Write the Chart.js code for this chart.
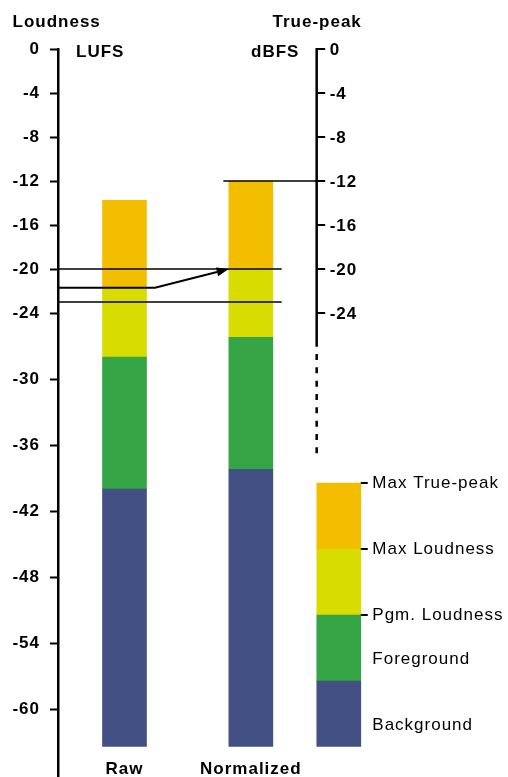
<!DOCTYPE html>
<html><head><meta charset="utf-8">
<script src="https://cdn.jsdelivr.net/npm/chart.js@4/dist/chart.umd.min.js"></script>
<style>html,body{margin:0;padding:0;background:#fff;overflow:hidden}canvas{display:block}</style>
</head><body><canvas id="c" width="508" height="777"></canvas>
<script>
// ---------- data (dB) ----------
const categories = ['Raw', 'Normalized'];
const barBottom     = [-63.4, -63.4];
const foregroundLow = [-40, -38.2];
const pgmLoudness   = [-28, -26.2];
const maxLoudness   = [-21.7, -20];
const maxTruePeak   = [-13.75, -12];
const leftTicks  = [0, -4, -8, -12, -16, -20, -24, -30, -36, -42, -48, -54, -60];
const rightTicks = [0, -4, -8, -12, -16, -20, -24];
const targetLevel = [-20];
const lowerLevel  = [-23];
const rawLevel    = [-21.7];
const peakLimit   = [-12];
const rightAxisSolidEnd = [-27.06];
const rightAxisDashEnd  = [-36.9];
const legendLabels = ['Max True-peak', 'Max Loudness', 'Pgm. Loudness', 'Foreground', 'Background'];
const legendBounds = [-39.45, -45.45, -51.45, -57.45, -63.4];
const legendLabelLevels = [-39.45, -45.45, -51.45, -55.5, -61.5];
const legendTickLevels = [-39.45, -45.45, -51.45];

// ---------- layout / style ----------
const POS = { xMin: -0.5263, xMax: 3.0352, legendX: 1.696, rightAxisX: 1.521,
  peakLineStart: 0.782, refLineEnd: 1.244, arrowKink: 0.241, arrowTip: 0.8245 };
const COL = { orange: '#F4BE00', yellow: '#D8DC00', green: '#36A546', blue: '#425084' };
const FONT = '"Liberation Sans", Arial, sans-serif';
const FS = 17;

function seg(lo, hi) { return categories.map((c, i) => ({ x: i, y: [lo[i], hi[i]] })); }
const legendData = [0, 1, 2, 3].map(k => ({ x: POS.legendX, y: [legendBounds[k + 1], legendBounds[k]] }));

const common = { stack: 's', barThickness: 44, borderWidth: 0 };
const datasets = [
  { label: 'Background', data: seg(barBottom, foregroundLow), backgroundColor: COL.blue, ...common },
  { label: 'Foreground', data: seg(foregroundLow, pgmLoudness), backgroundColor: COL.green, ...common },
  { label: 'Pgm. Loudness', data: seg(pgmLoudness, maxLoudness), backgroundColor: COL.yellow, ...common },
  { label: 'Max Loudness', data: seg(maxLoudness, maxTruePeak), backgroundColor: COL.orange, ...common },
  { label: 'Legend', data: legendData, backgroundColor: [COL.orange, COL.yellow, COL.green, COL.blue], ...common }
];

const overlay = {
  id: 'overlay',
  beforeDraw(chart) { chart.ctx.letterSpacing = '1px'; },
  afterDatasetsDraw(chart) {
    const ctx = chart.ctx, x = chart.scales.x, y = chart.scales.y;
    const left = chart.chartArea.left;
    ctx.save();
    ctx.strokeStyle = '#000'; ctx.fillStyle = '#000'; ctx.lineCap = 'butt';
    // reference lines
    ctx.lineWidth = 1.3;
    [targetLevel[0], lowerLevel[0]].forEach(v => {
      ctx.beginPath(); ctx.moveTo(left, y.getPixelForValue(v)); ctx.lineTo(x.getPixelForValue(POS.refLineEnd), y.getPixelForValue(v)); ctx.stroke();
    });
    ctx.beginPath();
    ctx.moveTo(x.getPixelForValue(POS.peakLineStart), y.getPixelForValue(peakLimit[0]));
    ctx.lineTo(x.getPixelForValue(POS.rightAxisX), y.getPixelForValue(peakLimit[0]));
    ctx.stroke();
    // arrow
    const ay = y.getPixelForValue(rawLevel[0]);
    const kx = x.getPixelForValue(POS.arrowKink);
    const tx = x.getPixelForValue(POS.arrowTip), ty = y.getPixelForValue(targetLevel[0]);
    const ang = Math.atan2(ty - ay, tx - kx);
    const hl = 12, hw = 4.5;
    const bx = tx - hl * Math.cos(ang), by = ty - hl * Math.sin(ang);
    ctx.lineWidth = 2;
    ctx.lineJoin = 'miter';
    ctx.beginPath(); ctx.moveTo(left, ay); ctx.lineTo(kx, ay); ctx.lineTo(bx, by); ctx.stroke();
    ctx.beginPath();
    ctx.moveTo(tx, ty);
    ctx.lineTo(bx + hw * Math.sin(ang), by - hw * Math.cos(ang));
    ctx.lineTo(bx - hw * Math.sin(ang), by + hw * Math.cos(ang));
    ctx.closePath(); ctx.fill();
    // right axis
    const rx = x.getPixelForValue(POS.rightAxisX);
    ctx.lineWidth = 2.5;
    ctx.beginPath(); ctx.moveTo(rx, y.getPixelForValue(0) - 1); ctx.lineTo(rx, y.getPixelForValue(rightAxisSolidEnd[0])); ctx.stroke();
    ctx.setLineDash([6, 7.33]); ctx.lineDashOffset = 6;
    ctx.beginPath(); ctx.moveTo(rx, y.getPixelForValue(rightAxisSolidEnd[0])); ctx.lineTo(rx, y.getPixelForValue(rightAxisDashEnd[0])); ctx.stroke();
    ctx.setLineDash([]);
    ctx.lineWidth = 2;
    ctx.font = 'bold ' + FS + 'px ' + FONT; ctx.textAlign = 'left'; ctx.textBaseline = 'middle';
    rightTicks.forEach(v => {
      const py = y.getPixelForValue(v);
      ctx.beginPath(); ctx.moveTo(rx, py); ctx.lineTo(rx + 8.5, py); ctx.stroke();
      ctx.fillText(String(v), rx + 13, py + 1);
    });
    // legend ticks + labels
    const lr = x.getPixelForValue(POS.legendX) + 22;
    legendTickLevels.forEach(v => {
      const py = y.getPixelForValue(v);
      ctx.beginPath(); ctx.moveTo(lr, py); ctx.lineTo(lr + 7, py); ctx.stroke();
    });
    ctx.font = FS + 'px ' + FONT;
    legendLabels.forEach((t, k) => ctx.fillText(t, lr + 11.5, y.getPixelForValue(legendLabelLevels[k])));
    // titles
    ctx.font = 'bold ' + FS + 'px ' + FONT; ctx.textBaseline = 'alphabetic';
    ctx.fillText('Loudness', 12.5, 27);
    ctx.fillText('LUFS', 76, 57);
    ctx.fillText('True-peak', 272.5, 26.5);
    ctx.fillText('dBFS', 251, 57);
    // category labels
    ctx.textAlign = 'center';
    categories.forEach((c, i) => ctx.fillText(c, x.getPixelForValue(i), 774));
    ctx.restore();
  }
};

new Chart(document.getElementById('c'), {
  type: 'bar',
  data: { datasets },
  options: {
    responsive: false, animation: false, devicePixelRatio: 1,
    layout: { padding: { left: 0, top: 49, right: 0, bottom: 0 } },
    plugins: { legend: { display: false }, tooltip: { enabled: false }, title: { display: false } },
    scales: {
      x: { type: 'linear', min: POS.xMin, max: POS.xMax, offset: false, display: false },
      y: {
        type: 'linear', min: -66.18, max: 0, stacked: false,
        afterBuildTicks: s => { s.ticks = leftTicks.slice().reverse().map(v => ({ value: v })); },
        afterFit: s => { s.width = 58; s.paddingTop = 0; s.paddingBottom = 0; },
        grid: { drawOnChartArea: false, drawTicks: true, tickLength: 8, tickWidth: 2, tickColor: '#000' },
        border: { display: true, color: '#000', width: 2.5 },
        ticks: { autoSkip: false, padding: 10, color: '#000', font: { family: FONT, size: FS, weight: 'bold' },
          callback: v => String(v) }
      }
    }
  },
  plugins: [overlay]
});
</script></body></html>
